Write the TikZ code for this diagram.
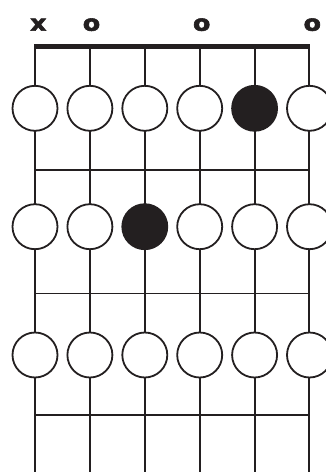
\documentclass[tikz,border=0pt]{standalone}
\usepackage{fontspec}
\usepackage{tikz}
\usetikzlibrary{positioning}
\usepackage{xcolor}
\newfontfamily\markfont{DejaVu Sans Bold}[FakeBold=2.5]
\definecolor{inkblack}{RGB}{35,31,32}

\begin{document}
\begin{tikzpicture}[
  x=1pt,y=-1pt,
  node distance=9.9pt,
  spot/.style={circle,draw=inkblack,line width=1.8pt,fill=white,minimum size=45pt,inner sep=0pt,outer sep=0pt},
  held/.style={spot,fill=inkblack},
  stringline/.style={inkblack,line width=1.7pt},
  fretline/.style={inkblack,line width=1.4pt},
  nutline/.style={inkblack,line width=5pt},
  openmark/.style={font=\markfont\fontsize{22}{22}\selectfont,text=inkblack,inner sep=0pt}
]
\useasboundingbox (0,0) rectangle (326,472);

% String ends: on the nut and at the lower edge.
\coordinate (top1) at (35,46.5);    \coordinate (bot1) at (35,472);
\coordinate (top2) at (90,46.5);    \coordinate (bot2) at (90,472);
\coordinate (top3) at (144.7,46.5); \coordinate (bot3) at (144.7,472);
\coordinate (top4) at (199.7,46.5); \coordinate (bot4) at (199.7,472);
\coordinate (top5) at (254.7,46.5); \coordinate (bot5) at (254.7,472);
\coordinate (top6) at (309.3,46.5); \coordinate (bot6) at (309.3,472);

\draw[stringline] (top1) -- (bot1);
\draw[stringline] (top2) -- (bot2);
\draw[stringline] (top3) -- (bot3);
\draw[stringline] (top4) -- (bot4);
\draw[stringline] (top5) -- (bot5);
\draw[stringline] (top6) -- (bot6);

% Nut and frets.
\coordinate (nutL) at (34.2,46.5); \coordinate (nutR) at (310.2,46.5);
\draw[nutline] (nutL) -- (nutR);
\coordinate (fretL1) at (35,170);   \coordinate (fretR1) at (309.3,170);
\coordinate (fretL2) at (35,293.3); \coordinate (fretR2) at (309.3,293.3);
\coordinate (fretL3) at (35,415);   \coordinate (fretR3) at (309.3,415);
\draw[fretline] (fretL1) -- (fretR1);
\draw[fretline] (fretL2) -- (fretR2);
\draw[fretline] (fretL3) -- (fretR3);

% Open / muted marks above the nut.
\node[openmark] (mute1) at (38.3,24.7) {\scalebox{1.15}[1]{x}};
\node[openmark] (open2) at (91.5,24.7) {\scalebox{1.15}[1]{o}};
\node[openmark] (open4) at (201.7,24.7) {\scalebox{1.15}[1]{o}};
\node[openmark] (open6) at (312.3,24.7) {\scalebox{1.15}[1]{o}};

% First fret row.
\node[spot] (r1s1) at (35,108.3) {};
\node[spot,right=of r1s1] (r1s2) {};
\node[spot,right=of r1s2] (r1s3) {};
\node[spot,right=of r1s3] (r1s4) {};
\node[held,right=of r1s4] (r1s5) {};
\node[spot,right=of r1s5] (r1s6) {};

% Second fret row.
\node[spot] (r2s1) at (35,226.7) {};
\node[spot,right=of r2s1] (r2s2) {};
\node[held,right=of r2s2] (r2s3) {};
\node[spot,right=of r2s3] (r2s4) {};
\node[spot,right=of r2s4] (r2s5) {};
\node[spot,right=of r2s5] (r2s6) {};

% Third fret row.
\node[spot] (r3s1) at (35,355) {};
\node[spot,right=of r3s1] (r3s2) {};
\node[spot,right=of r3s2] (r3s3) {};
\node[spot,right=of r3s3] (r3s4) {};
\node[spot,right=of r3s4] (r3s5) {};
\node[spot,right=of r3s5] (r3s6) {};
\end{tikzpicture}
\end{document}
